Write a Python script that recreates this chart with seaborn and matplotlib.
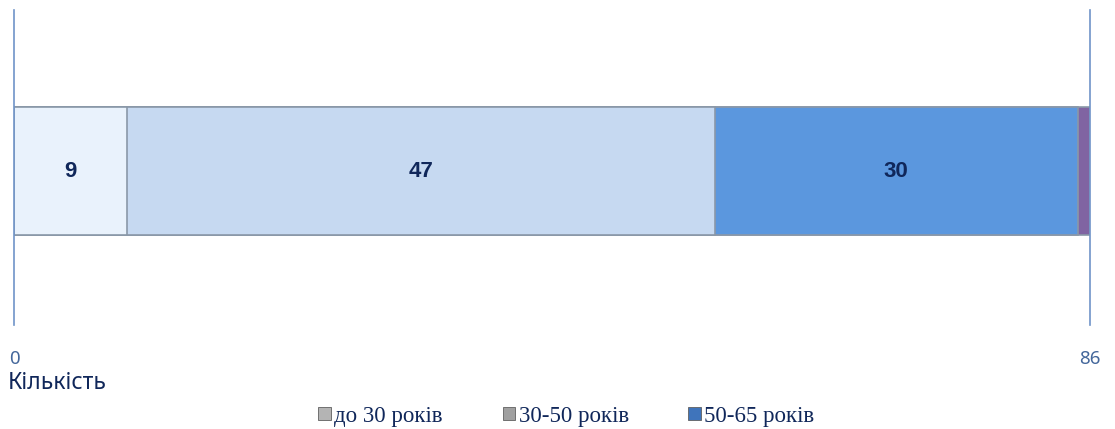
import matplotlib
matplotlib.use("Agg")
import matplotlib.pyplot as plt
import seaborn as sns
import pandas as pd
import numpy as np
from matplotlib.patches import Patch

groups = ['до 30 років', '30-50 років', '50-65 років', '']
lengths = [9, 47, 29, 1]
shown = ['9', '47', '30', '']
colors = ['#e9f2fc', '#c6d9f1', '#5b97de', '#8064a2']
legend_colors = ['#b4b4b4', '#a0a0a0', '#3f74bb']
category = 'Кількість'
tick_values = [0, 86]
tick_labels = ['0', '86']

df = pd.DataFrame({'group': groups, 'value': lengths, 'label': shown, 'color': colors})
df['end'] = df['value'].cumsum()
df['start'] = df['end'] - df['value']
df['cat'] = category

sns.set_theme(style='white')
plt.rcParams['font.family'] = ['Liberation Sans', 'DejaVu Sans']

fig = plt.figure(figsize=(11.15, 4.29), dpi=100)
ax = fig.add_axes([0.0126, 0.2424, 0.965, 0.734])

# classic seaborn stacking: draw cumulative totals from the longest down
for i in reversed(range(len(df))):
    row = df.iloc[[i]]
    sns.barplot(data=row, x='end', y='cat', color=row['color'].iloc[0], orient='h',
                width=0.405, edgecolor='#8a98a8', linewidth=1.2, saturation=1, ax=ax)

for _, r in df.iterrows():
    if r['label']:
        ax.text((r['start'] + r['end']) / 2, 0, r['label'], ha='center', va='center',
                fontsize=16, fontweight='bold', color='#10275a')

ax.set_xlim(tick_values[0], tick_values[-1])
ax.set_ylim(0.489, -0.511)
ax.set_xticks(tick_values)
ax.set_xticklabels(tick_labels, fontsize=13.5, color='#44679b', family='Noto Sans')
ax.tick_params(axis='x', length=0, pad=18)
ax.set_yticks([])
ax.set_ylabel('')
ax.set_xlabel('')
for s in ['top', 'bottom']:
    ax.spines[s].set_visible(False)
for s in ['left', 'right']:
    ax.spines[s].set_color('#6f94c8')
    ax.spines[s].set_linewidth(1.2)

fig.text(0.007, 0.08, category, fontsize=16.5, color='#10275a', family='Noto Sans',
         ha='left', va='bottom')

handles = [Patch(facecolor=c, edgecolor='#606060', linewidth=0.6) for c in legend_colors]
fig.legend(handles, groups[:3], loc='center', bbox_to_anchor=(0.508, 0.03), ncol=3,
           frameon=False, handlelength=0.55, handleheight=0.55, handletextpad=0.15,
           columnspacing=2.6, prop={'family': 'Liberation Serif', 'size': 16.5},
           labelcolor='#10275a')

fig.savefig('out.png', dpi=100)
